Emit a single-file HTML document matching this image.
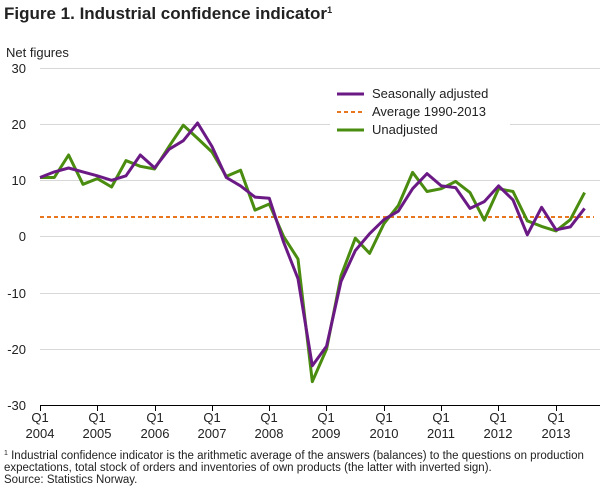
<!DOCTYPE html>
<html><head><style>
body{margin:0;background:#fff;font-family:"Liberation Sans",sans-serif;}
</style></head><body>
<svg width="610" height="488" xmlns="http://www.w3.org/2000/svg" font-family="Liberation Sans, sans-serif">
<text x="4" y="19" font-size="17" font-weight="bold" fill="#222">Figure 1. Industrial confidence indicator<tspan font-size="9" dy="-6">1</tspan></text>
<text x="6" y="57" font-size="13" fill="#222">Net figures</text>
<g stroke="#d8d8d8" stroke-width="1">
<line x1="40" x2="600" y1="68.5" y2="68.5"/><line x1="40" x2="600" y1="124.5" y2="124.5"/>
<line x1="40" x2="600" y1="180.5" y2="180.5"/><line x1="40" x2="600" y1="236.5" y2="236.5"/>
<line x1="40" x2="600" y1="293.5" y2="293.5"/><line x1="40" x2="600" y1="349.5" y2="349.5"/>
</g>
<line x1="40" x2="600" y1="405.5" y2="405.5" stroke="#000"/>
<g font-size="13" fill="#222" text-anchor="end">
<text x="26" y="73">30</text><text x="26" y="129">20</text><text x="26" y="185">10</text>
<text x="26" y="241">0</text><text x="26" y="298">-10</text><text x="26" y="354">-20</text><text x="26" y="410">-30</text>
</g>
<g stroke="#000">
<line x1="40.5" x2="40.5" y1="405" y2="411"/><line x1="97.5" x2="97.5" y1="405" y2="411"/>
<line x1="155.5" x2="155.5" y1="405" y2="411"/><line x1="212.5" x2="212.5" y1="405" y2="411"/>
<line x1="269.5" x2="269.5" y1="405" y2="411"/><line x1="326.5" x2="326.5" y1="405" y2="411"/>
<line x1="384.5" x2="384.5" y1="405" y2="411"/><line x1="441.5" x2="441.5" y1="405" y2="411"/>
<line x1="498.5" x2="498.5" y1="405" y2="411"/><line x1="556.5" x2="556.5" y1="405" y2="411"/>
</g>
<g font-size="13" fill="#222" text-anchor="middle">
<text x="40" y="422">Q1</text><text x="40" y="438">2004</text>
<text x="97" y="422">Q1</text><text x="97" y="438">2005</text>
<text x="155" y="422">Q1</text><text x="155" y="438">2006</text>
<text x="212" y="422">Q1</text><text x="212" y="438">2007</text>
<text x="269" y="422">Q1</text><text x="269" y="438">2008</text>
<text x="326" y="422">Q1</text><text x="326" y="438">2009</text>
<text x="384" y="422">Q1</text><text x="384" y="438">2010</text>
<text x="441" y="422">Q1</text><text x="441" y="438">2011</text>
<text x="498" y="422">Q1</text><text x="498" y="438">2012</text>
<text x="556" y="422">Q1</text><text x="556" y="438">2013</text>
</g>
<line x1="40" x2="594" y1="217" y2="217" stroke="#e8761e" stroke-width="2" stroke-dasharray="4,3"/>
<polyline fill="none" stroke="#4a8c0f" stroke-width="3" stroke-linejoin="round" points="40,177.5 54.3,177.5 68.6,155 83,184.3 97.3,178.6 111.6,187 126,160.6 140.3,166.3 154.6,169 169,146.5 183.3,125.2 197.6,138.4 212,152 226.3,176.4 240.6,170.2 255,210.1 269.3,204 283.6,236.5 298,259 312.3,381.6 326.6,349 341,275.9 355.3,238.2 369.6,253.4 384,223.6 398.3,205.6 412.6,172.4 427,191.5 441.3,188.7 455.6,181.4 470,192.6 484.3,220.2 498.6,188.7 513,191.5 527.3,220.8 541.6,226.4 556,230.9 570.3,219.7 584.6,192.6"/>
<polyline fill="none" stroke="#6b1a85" stroke-width="3" stroke-linejoin="round" points="40,177.5 54.3,171.9 68.6,168 83,171.9 97.3,175.8 111.6,180.3 126,175.8 140.3,155 154.6,167.9 169,149.3 183.3,140.7 197.6,123 212,146.5 226.3,177.5 240.6,185.9 255,197.1 269.3,198.3 283.6,242.1 298,278.7 312.3,365.8 326.6,346.1 341,281.5 355.3,250.6 369.6,233.7 384,219.6 398.3,211.2 412.6,188.7 427,173.6 441.3,185.9 455.6,187.6 470,208.4 484.3,201.6 498.6,185.9 513,199.9 527.3,234.8 541.6,207.3 556,229.8 570.3,226.9 584.6,208.4"/>
<rect x="330" y="80" width="180" height="58" fill="#fff"/>
<line x1="337" x2="364" y1="94" y2="94" stroke="#6b1a85" stroke-width="3"/>
<line x1="337" x2="364" y1="112" y2="112" stroke="#e8761e" stroke-width="2" stroke-dasharray="4,3"/>
<line x1="337" x2="364" y1="130" y2="130" stroke="#4a8c0f" stroke-width="3"/>
<g font-size="13" fill="#222">
<text x="372" y="98">Seasonally adjusted</text>
<text x="372" y="116">Average 1990-2013</text>
<text x="372" y="134">Unadjusted</text>
</g>
<g font-size="11.5" fill="#222">
<text x="4" y="459"><tspan font-size="7" dy="-4">1</tspan><tspan dy="4"> Industrial confidence indicator is the arithmetic average of the answers (balances) to the questions on production</tspan></text>
<text x="4" y="471">expectations, total stock of orders and inventories of own products (the latter with inverted sign).</text>
<text x="4" y="483">Source: Statistics Norway.</text>
</g>
</svg>
</body></html>
